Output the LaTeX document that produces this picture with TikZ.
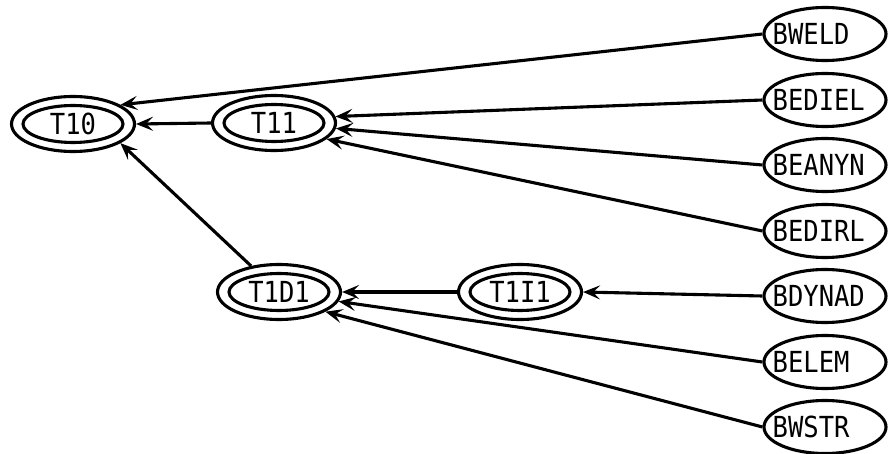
\documentclass[tikz,border=0pt]{standalone}
\usepackage{fontspec}
\setmonofont[FakeStretch=0.88]{DejaVu Sans Mono}
\usetikzlibrary{shapes.geometric,arrows.meta}
\begin{document}
\begin{tikzpicture}[x=1pt,y=-1pt,
  lw/.style={line width=3.1pt},
  lbl/.style={font=\ttfamily\fontsize{29}{30}\selectfont},
  outerell/.style={ellipse,draw,lw,minimum width=123pt,minimum height=55pt,inner sep=0pt},
  innerell/.style={ellipse,draw,lw,minimum width=100pt,minimum height=37pt,inner sep=0pt,lbl},
  leafell/.style={ellipse,draw,lw,minimum width=122pt,minimum height=53pt,inner sep=0pt},
  leaftxt/.style={anchor=west,inner sep=0pt,lbl},
  arr/.style={lw,-{Stealth[length=17pt,width=14pt,inset=7pt]}}]
\useasboundingbox (0,0) rectangle (888,454);
% double ellipses
\node[outerell] (t10) at (73,124) {};
\node[innerell] (t10i) at (t10.center) {T10};
\node[outerell] (t11) at (274,123) {};
\node[innerell] (t11i) at (t11.center) {T11};
\node[outerell] (t1d1) at (279,292) {};
\node[innerell] (t1d1i) at (t1d1.center) {T1D1};
\node[outerell] (t1i1) at (520,292) {};
\node[innerell] (t1i1i) at (t1i1.center) {T1I1};
% leaf ellipses
\foreach \nm/\tx/\yy in {bweld/BWELD/34, bediel/BEDIEL/100, beanyn/BEANYN/165, bedirl/BEDIRL/231, bdynad/BDYNAD/296, belem/BELEM/362, bwstr/BWSTR/427}{
  \node[leafell] (\nm) at (825,\yy) {};
  \node[leaftxt] (\nm t) at ([xshift=10pt]\nm.west) {\tx};
}
% connectors
\draw[arr] (bweld.west) -- (t10.22);
\draw[arr] (t11.west) -- (t10.east);
\draw[arr] (t1d1.137) -- (t10.-22);
\draw[arr] (bediel.west) -- (t11.6);
\draw[arr] (beanyn.west) -- (t11.-5);
\draw[arr] (bedirl.west) -- (t11.-17);
\draw[arr] (t1i1.west) -- (t1d1.east);
\draw[arr] (bdynad.west) -- (t1i1.east);
\draw[arr] (belem.west) -- (t1d1.-9);
\draw[arr] (bwstr.west) -- (t1d1.-23);
\end{tikzpicture}
\end{document}
